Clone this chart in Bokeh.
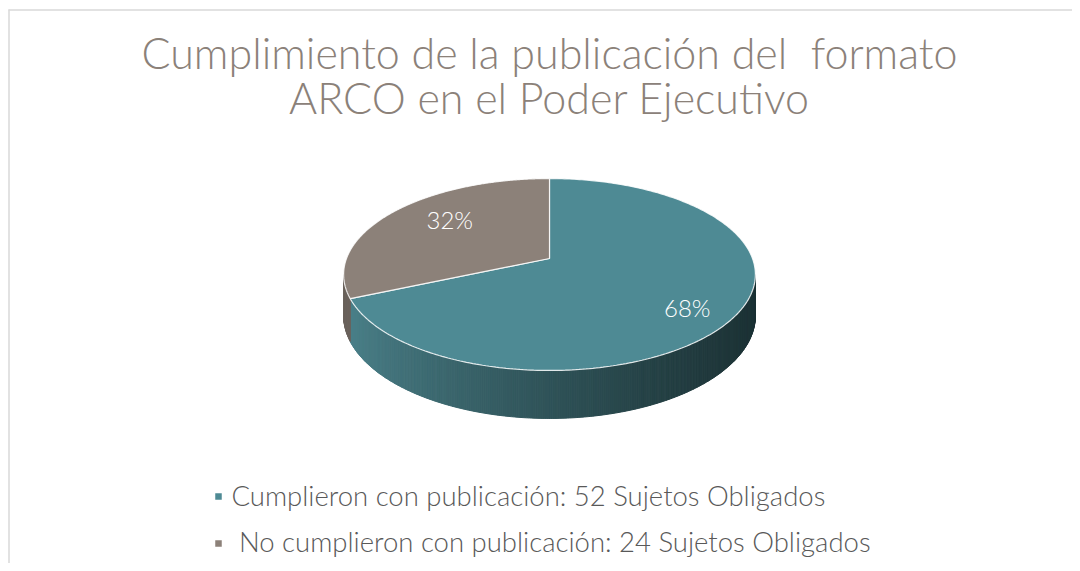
import numpy as np
from bokeh.plotting import figure
from bokeh.models import Range1d
from bokeh.embed import file_html
from bokeh.resources import INLINE
from bokeh.core.properties import value

# ---------------- data ----------------
title_lines = ["Cumplimiento de la publicación del\u00a0 formato",
               "ARCO en el Poder Ejecutivo"]
categories = ["Cumplieron con publicación: 52 Sujetos Obligados",
              "\u00a0No cumplieron con publicación: 24 Sujetos Obligados"]
counts = [52, 24]
pct_labels = ["68%", "32%"]

# ---------------- style ----------------
top_colors = ["#4E8A94", "#8C8179"]
side_light = ["#4C838C", "#6B635D"]
side_dark = ["#1C3235", "#4A4440"]
label_r = [0.765, 0.62]
label_dx = [-2, 0]
label_dy = [7, -9]
TITLE_COLOR = "#8B8179"
LEGEND_COLOR = "#595959"
FONT = "Lato Light"

W, H = 1072, 563
p = figure(width=W, height=H, x_range=Range1d(0, W), y_range=Range1d(H, 0),
           output_backend="svg", toolbar_location=None, min_border=0,
           x_axis_location=None, y_axis_location=None)
p.grid.visible = False
p.outline_line_color = None
p.background_fill_color = "white"
p.border_fill_color = "white"

# chart-area border (left and top visible)
p.segment(x0=[8.5, 8], y0=[9, 9.5], x1=[8.5, W], y1=[H, 9.5],
          line_color="#d9d9d9", line_width=1.5)

# ---------------- 3D pie geometry ----------------
CX, CY = 549.0, 258.0
R, RY, K, D = 203.0, 93.3, 1.0 / 6.0, 40.0


def proj(t, r=1.0):
    u = r * np.sin(t)
    v = r * np.cos(t)
    s = 1.0 / (1.0 + K * v)
    return CX + R * u * s, CY - RY * v * s, s


total = float(sum(counts))
fracs = [c / total for c in counts]
starts = np.concatenate([[0.0], np.cumsum(fracs)[:-1]]) * 2 * np.pi
ends = np.cumsum(fracs) * 2 * np.pi

t_right = np.arccos(-K)              # rightmost silhouette point
t_left = 2 * np.pi - np.arccos(-K)   # leftmost silhouette point
xL = proj(t_left)[0]
xR = proj(t_right)[0]


def lerp_color(c0, c1, f):
    a = [int(c0[i:i + 2], 16) for i in (1, 3, 5)]
    b = [int(c1[i:i + 2], 16) for i in (1, 3, 5)]
    return "#%02x%02x%02x" % tuple(int(round(a[k] + (b[k] - a[k]) * f)) for k in range(3))


# side walls
sx, sy, sc = [], [], []
for i in range(len(counts)):
    a0 = max(starts[i], t_right)
    a1 = min(ends[i], t_left)
    if a1 <= a0:
        continue
    n = max(4, int((a1 - a0) / (2 * np.pi) * 720))
    ts = np.linspace(a0, a1, n + 1)
    for j in range(n):
        x1, y1, s1 = proj(ts[j])
        x2, y2, s2 = proj(ts[j + 1])
        sx.append([x1, x2, x2, x1])
        sy.append([y1, y2, y2 + D * s2, y1 + D * s1])
        f = ((x1 + x2) / 2 - xL) / (xR - xL)
        f = min(1.0, max(0.0, f)) ** 0.75
        sc.append(lerp_color(side_light[i], side_dark[i], f))
p.patches(xs=sx, ys=sy, fill_color=sc, line_color=sc, line_width=1)

# top faces
tx, ty = [], []
for i in range(len(counts)):
    ts = np.linspace(starts[i], ends[i], 300)
    xs, ys, _ = proj(ts)
    tx.append([CX] + list(xs))
    ty.append([CY] + list(ys))
p.patches(xs=tx, ys=ty, fill_color=top_colors, line_color="white",
          line_width=1.2, line_alpha=0.85)

# percentage labels
mids = (starts + ends) / 2
lx, ly = [], []
for i in range(len(counts)):
    x, y, _ = proj(mids[i], label_r[i])
    lx.append(x + label_dx[i])
    ly.append(y + label_dy[i])
p.text(x=lx, y=ly, text=pct_labels, text_color="white", text_font=value(FONT),
       text_font_size="24px", text_align="center", text_baseline="middle")

# title
p.text(x=[549, 549], y=[52, 97], text=title_lines, text_color=TITLE_COLOR,
       text_font=value(FONT), text_font_size="43px", text_align="center",
       text_baseline="middle")

# legend
p.scatter(x=[218, 218], y=[496, 543], marker="square", size=6.5,
          fill_color=top_colors, line_color=None)
p.text(x=[231, 231], y=[495, 541], text=categories, text_color=LEGEND_COLOR,
       text_font=value(FONT), text_font_size="27.5px", text_align="left",
       text_baseline="middle")

open("out.html", "w").write(file_html(p, INLINE))
